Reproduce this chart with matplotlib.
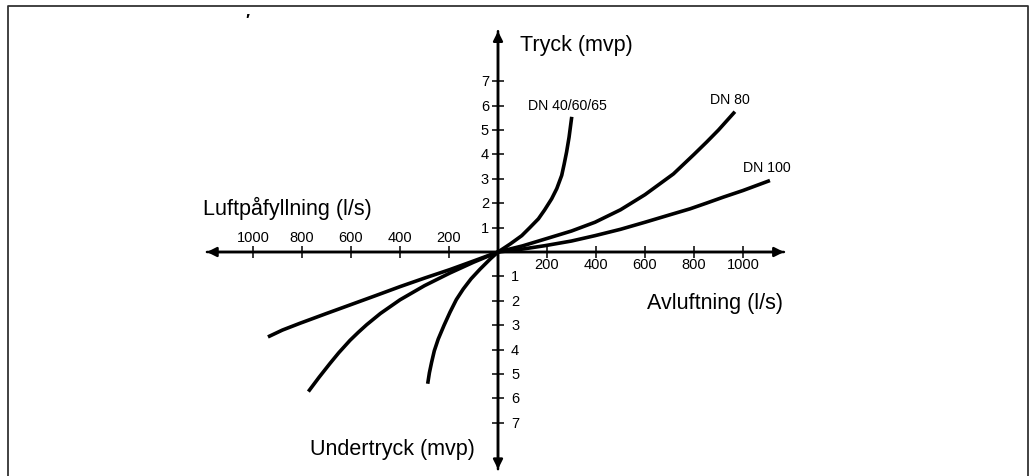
import matplotlib
matplotlib.use("Agg")
import matplotlib.pyplot as plt
from matplotlib.lines import Line2D

plt.rcParams["font.family"] = ["Liberation Sans", "DejaVu Sans"]

# tick values (l/s and mvp)
x_ticks_right = [200, 400, 600, 800, 1000]
x_ticks_left = [-200, -400, -600, -800, -1000]
y_ticks_up = [1, 2, 3, 4, 5, 6, 7]
y_ticks_down = [-1, -2, -3, -4, -5, -6, -7]

# Avluftning / Tryck (upper right)
dn40_up_x = [0, 29, 50, 97, 130, 165, 190, 219, 240, 260, 270, 280, 290, 301]
dn40_up_y = [0, 0.19, 0.33, 0.67, 1.0, 1.36, 1.72, 2.18, 2.6, 3.14, 3.6, 4.10, 4.7, 5.54]
dn80_up_x = [0, 100, 192, 300, 396, 500, 600, 716, 800, 852, 900, 967]
dn80_up_y = [0, 0.25, 0.53, 0.86, 1.22, 1.73, 2.35, 3.2, 4.0, 4.51, 5.0, 5.75]
dn100_up_x = [0, 100, 192, 300, 396, 500, 600, 700, 784, 850, 920, 1000, 1110]
dn100_up_y = [0, 0.12, 0.26, 0.45, 0.67, 0.93, 1.22, 1.52, 1.77, 2.0, 2.25, 2.52, 2.93]

# Luftpåfyllning / Undertryck (lower left)
dn40_lo_x = [0, -30, -73, -110, -142, -170, -196, -220, -244, -260, -271, -280, -287]
dn40_lo_y = [0, -0.27, -0.70, -1.1, -1.52, -1.95, -2.47, -3.0, -3.57, -4.05, -4.52, -4.95, -5.40]
dn80_lo_x = [0, -100, -196, -300, -400, -480, -536, -570, -604, -650, -686, -730, -774]
dn80_lo_y = [0, -0.42, -0.86, -1.38, -1.96, -2.52, -2.98, -3.29, -3.62, -4.13, -4.57, -5.13, -5.72]
dn100_lo_x = [0, -100, -196, -300, -400, -500, -604, -700, -808, -880, -939]
dn100_lo_y = [0, -0.37, -0.72, -1.07, -1.42, -1.79, -2.17, -2.52, -2.92, -3.2, -3.48]

W, H = 1034, 477
X0, Y0 = 498, 253          # origin in pixels
SX, SY = 0.245, 24.4       # pixels per unit

fig = plt.figure(figsize=(W / 100, H / 100), dpi=100)
ax = fig.add_axes([0, 0, 1, 1])
ax.set_xlim(-X0 / SX, (W - X0) / SX)
ax.set_ylim((Y0 - H) / SY, Y0 / SY)
ax.axis("off")

# frame (open at the bottom)
fx0, fx1, fy = 8 / W, 1028 / W, 1 - 7 / H
fig.add_artist(Line2D([fx0, fx0, fx1, fx1], [0, fy, fy, 0],
                      transform=fig.transFigure, color="#333333", lw=1.3))

# axes with arrows
arrow = dict(arrowstyle="-|>", lw=1.8, color="black",
             mutation_scale=14, shrinkA=0, shrinkB=0)
ax.annotate("", xy=(1167, 0), xytext=(-1188, 0), arrowprops=arrow)
ax.annotate("", xy=(-1188, 0), xytext=(1167, 0), arrowprops=arrow)
ax.annotate("", xy=(0, 9.05), xytext=(0, -8.9), arrowprops=arrow)
ax.annotate("", xy=(0, -8.9), xytext=(0, 9.05), arrowprops=arrow)

# tick marks
xt = x_ticks_right + x_ticks_left
ax.plot(xt, [0] * len(xt), ls="none", marker="|", ms=8, mew=1.1, color="black")
yt = y_ticks_up + y_ticks_down
ax.plot([0] * len(yt), yt, ls="none", marker="_", ms=8, mew=1.1, color="black")

# tick labels
for v in x_ticks_right:
    ax.annotate(str(v), (v, 0), xytext=(0, -12), textcoords="offset pixels",
                ha="center", va="center", fontsize=10.5)
for v in x_ticks_left:
    ax.annotate(str(-v), (v, 0), xytext=(0, 15), textcoords="offset pixels",
                ha="center", va="center", fontsize=10.5)
for v in y_ticks_up:
    ax.annotate(str(v), (0, v), xytext=(-9, 0), textcoords="offset pixels",
                ha="right", va="center", fontsize=10.5)
for v in y_ticks_down:
    ax.annotate(str(-v), (0, v), xytext=(13, 0), textcoords="offset pixels",
                ha="left", va="center", fontsize=10.5)

# curves
for xs, ys in [(dn40_up_x, dn40_up_y), (dn80_up_x, dn80_up_y),
               (dn100_up_x, dn100_up_y), (dn40_lo_x, dn40_lo_y),
               (dn80_lo_x, dn80_lo_y), (dn100_lo_x, dn100_lo_y)]:
    ax.plot(xs, ys, color="black", lw=2.6, solid_capstyle="butt",
            solid_joinstyle="round")


def px(x, y):
    return (x - X0) / SX, (Y0 - y) / SY


# axis titles
ax.text(*px(520, 45), "Tryck (mvp)", ha="left", va="center", fontsize=15.5)
ax.text(*px(203, 208), "Luftpåfyllning (l/s)", ha="left", va="center", fontsize=15.5)
ax.text(*px(647, 303), "Avluftning (l/s)", ha="left", va="center", fontsize=15.5)
ax.text(*px(310, 450), "Undertryck (mvp)", ha="left", va="center", fontsize=15.5)

# curve labels
ax.text(*px(528, 106), "DN 40/60/65", ha="left", va="center", fontsize=10.2)
ax.text(*px(710, 100), "DN 80", ha="left", va="center", fontsize=10.2)
ax.text(*px(743, 168), "DN 100", ha="left", va="center", fontsize=10.2)

# stray mark in the scan
ax.text(*px(247, 22), "′", ha="center", va="center", fontsize=12, fontweight="bold")

fig.savefig("out.png", dpi=100)
